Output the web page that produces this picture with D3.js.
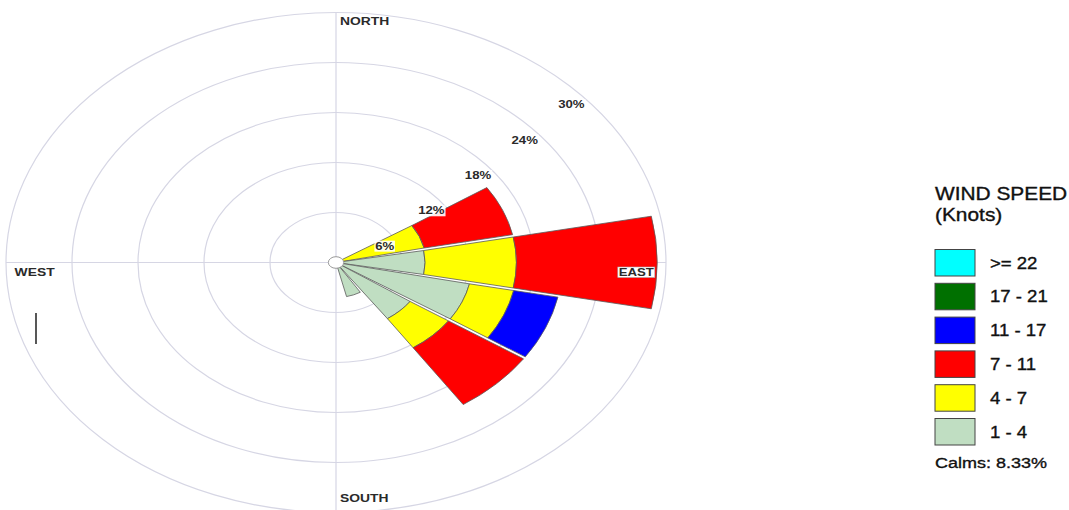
<!DOCTYPE html>
<html>
<head>
<meta charset="utf-8">
<script src="https://cdn.jsdelivr.net/npm/d3@7"></script>
<style>
  body { margin: 0; background: #fff; }
  svg { display: block; font-family: "Liberation Sans", Arial, sans-serif; }
</style>
</head>
<body>
<div id="chart"></div>
<script>
// 16 compass sectors, clockwise from north
const directions = ["N", "NNE", "NE", "ENE", "E", "ESE", "SE", "SSE",
                    "S", "SSW", "SW", "WSW", "W", "WNW", "NW", "NNW"];

// frequency (%) per speed class, per direction
const speed1to4   = [0, 0, 0, 0,   8.1, 12.4, 8.2, 4.2, 0, 0, 0, 0, 0, 0, 0, 0];
const speed4to7   = [0, 0, 0, 8.2, 8.3, 4.1,  4.2, 0,   0, 0, 0, 0, 0, 0, 0, 0];
const speed7to11  = [0, 0, 0, 8.2, 12.8, 0,   8.2, 0,   0, 0, 0, 0, 0, 0, 0, 0];
const speed11to17 = [0, 0, 0, 0,   0,   4.1,  0,   0,   0, 0, 0, 0, 0, 0, 0, 0];
const speed17to21 = [0, 0, 0, 0,   0,   0,    0,   0,   0, 0, 0, 0, 0, 0, 0, 0];
const speed22up   = [0, 0, 0, 0,   0,   0,    0,   0,   0, 0, 0, 0, 0, 0, 0, 0];

// stacking order, inner to outer
const speedClasses = ["1 - 4", "4 - 7", "7 - 11", "11 - 17", "17 - 21", ">= 22"];
const speedSeries  = [speed1to4, speed4to7, speed7to11, speed11to17, speed17to21, speed22up];
const speedColors  = ["#c0dec2", "#ffff00", "#ff0000", "#0000ff", "#007000", "#00ffff"];

const ringTicks = [6, 12, 18, 24, 30];
const cardinalLabels = ["NORTH", "EAST", "SOUTH", "WEST"];
const calms = 8.33;

// layout
const W = 1069, H = 510;
const cx = 336, cy = 262.5;
const sx = 1.32;            // the rose is stretched sideways in the picture
const maxR = 250;

const svg = d3.select("#chart").append("svg")
    .attr("width", W)
    .attr("height", H);

const r = d3.scaleLinear().domain([0, 30]).range([0, maxR]);
const sector = 2 * Math.PI / directions.length;
const color = d3.scaleOrdinal().domain(speedClasses).range(speedColors);

// polar group (scaled horizontally)
const rose = svg.append("g")
    .attr("transform", `translate(${cx},${cy}) scale(${sx},1)`);

// grid rings
rose.selectAll("circle.ring")
    .data(ringTicks)
    .enter().append("circle")
    .attr("class", "ring")
    .attr("r", d => r(d))
    .attr("fill", "none")
    .attr("stroke", "#d6d6e4")
    .attr("stroke-width", 1.2)
    .attr("vector-effect", "non-scaling-stroke");

// axis lines
rose.append("line")
    .attr("x1", -r(30)).attr("x2", r(30)).attr("y1", 0).attr("y2", 0)
    .attr("stroke", "#d6d6e4").attr("stroke-width", 1.2)
    .attr("vector-effect", "non-scaling-stroke");
rose.append("line")
    .attr("x1", 0).attr("x2", 0).attr("y1", -r(30)).attr("y2", r(30))
    .attr("stroke", "#d6d6e4").attr("stroke-width", 1.2)
    .attr("vector-effect", "non-scaling-stroke");

// build stacked wedges
const wedges = [];
directions.forEach((dir, i) => {
    let acc = 0;
    speedSeries.forEach((series, j) => {
        const v = series[i];
        if (v > 0) {
            wedges.push({ dir: dir, i: i, cls: speedClasses[j], r0: acc, r1: acc + v });
        }
        acc += v;
    });
});

const arc = d3.arc()
    .innerRadius(d => r(d.r0))
    .outerRadius(d => r(d.r1))
    .startAngle(d => d.i * sector - sector / 2)
    .endAngle(d => d.i * sector + sector / 2)
    .padAngle(0.012)
    .padRadius(200);

rose.selectAll("path.wedge")
    .data(wedges)
    .enter().append("path")
    .attr("class", "wedge")
    .attr("d", arc)
    .attr("fill", d => color(d.cls))
    .attr("stroke", "#5a5a5a")
    .attr("stroke-width", 0.8)
    .attr("vector-effect", "non-scaling-stroke");

// calm circle
rose.append("circle")
    .attr("r", 5.8)
    .attr("fill", "#fff")
    .attr("stroke", "#999")
    .attr("stroke-width", 1)
    .attr("vector-effect", "non-scaling-stroke");

// helper for stretched text
function stretchedText(parent, x, y, txt, size, k, weight, anchor) {
    return parent.append("text")
        .attr("transform", `translate(${x},${y}) scale(${k},1)`)
        .attr("font-size", size)
        .attr("font-weight", weight)
        .attr("text-anchor", anchor)
        .attr("fill", "#2a2a2a")
        .text(txt);
}

// ring percentage labels along the NE diagonal
const labelLayer = svg.append("g");
ringTicks.forEach(t => {
    const a = Math.PI / 4;
    const x = cx + sx * r(t) * Math.sin(a) + 2;
    const y = cy - r(t) * Math.cos(a) + 19;
    const wBox = (t < 10 ? 14 : 20) * sx;
    labelLayer.append("rect")
        .attr("x", x - wBox / 2 - 1).attr("y", y - 5.5)
        .attr("width", wBox + 2).attr("height", 11)
        .attr("fill", "#fff").attr("opacity", 0.9);
    stretchedText(labelLayer, x, y + 3.6, t + "%", 10, sx, "bold", "middle");
});

// cardinal labels
stretchedText(labelLayer, cx + 4, cy - r(29) + 4, cardinalLabels[0], 10.5, sx, "bold", "start");
stretchedText(labelLayer, cx + 4, cy + r(28.3) + 4, cardinalLabels[2], 10.5, sx, "bold", "start");
stretchedText(labelLayer, cx - sx * r(27.4), cy + 9.5 + 4, cardinalLabels[3], 10.5, sx, "bold", "middle");
labelLayer.append("rect")
    .attr("x", cx + sx * r(27.3) - 18.5).attr("y", cy + 4.5)
    .attr("width", 37).attr("height", 10.5)
    .attr("fill", "#fff").attr("stroke", "#aaa").attr("stroke-width", 0.6);
stretchedText(labelLayer, cx + sx * r(27.3), cy + 9.5 + 4, cardinalLabels[1], 10, sx, "bold", "middle");

// stray cursor mark near WEST
svg.append("line")
    .attr("x1", 36).attr("x2", 36).attr("y1", 313).attr("y2", 344)
    .attr("stroke", "#111").attr("stroke-width", 1.4);

// legend
const legend = svg.append("g");
const lx = 935, ly = 249.5, step = 33.8;
function legendText(x, y, txt, size, k) {
    return stretchedText(legend, x, y, txt, size, k, "normal", "start")
        .attr("fill", "#111")
        .attr("stroke", "#111")
        .attr("stroke-width", 0.35);
}
legendText(lx, 200, "WIND SPEED", 18, 1.16);
legendText(lx, 221, "(Knots)", 18, 1.16);

const legendOrder = speedClasses.slice().reverse();
legendOrder.forEach((cls, i) => {
    const y = ly + i * step;
    legend.append("rect")
        .attr("x", lx).attr("y", y)
        .attr("width", 40).attr("height", 26.5)
        .attr("fill", color(cls))
        .attr("stroke", "#444").attr("stroke-width", 1);
    legendText(990, y + 19, cls, 16, 1.16);
});
legendText(lx, 468, "Calms: " + calms.toFixed(2) + "%", 15, 1.2);
</script>
</body>
</html>
